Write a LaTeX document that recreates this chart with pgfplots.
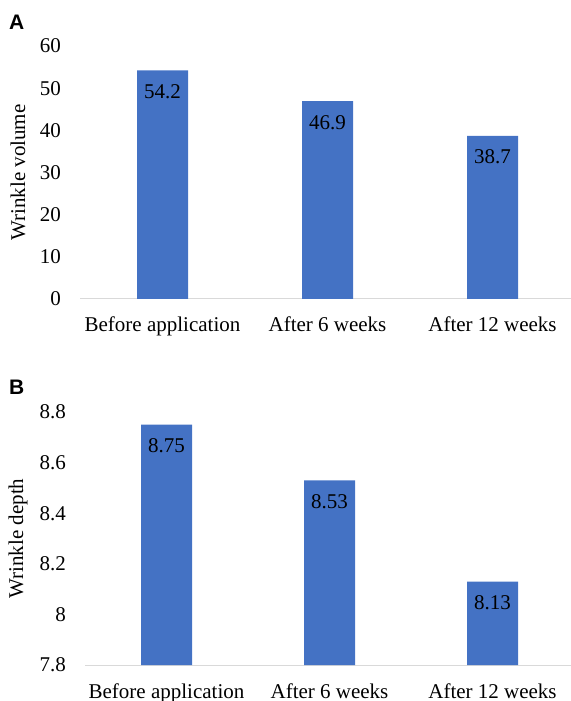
\documentclass[border=0pt]{standalone}
\usepackage{fontspec}
\setmainfont{Liberation Serif}
\newfontfamily\panelfont{Liberation Sans}
\usepackage{pgfplots}
\pgfplotsset{compat=1.18}
\definecolor{barblue}{HTML}{4472C4}
\definecolor{axisgray}{HTML}{D9D9D9}

\pgfplotsset{
  wrinklebars/.style={
    scale only axis,
    anchor=south west,
    ybar,
    bar width=51bp,
    xmin=-0.5, xmax=2.5,
    xtick={0,1,2},
    xticklabels={Before application, After 6 weeks, After 12 weeks},
    axis x line=bottom,
    axis y line=left,
    x axis line style={draw=axisgray, line width=1pt, -},
    y axis line style={draw=none},
    major tick length=0pt,
    tick style={draw=none},
    font=\fontsize{21bp}{25bp}\selectfont,
    ticklabel style={font=\rmfamily\fontsize{21bp}{25bp}\selectfont, inner sep=0pt},
    yticklabel style={anchor=east, xshift=-19bp},
    xticklabel style={anchor=base, yshift=-33bp},
    point meta=explicit symbolic,
    nodes near coords,
    every node near coord/.append style={anchor=center, yshift=-21bp,
      text=black, font=\rmfamily\fontsize{21bp}{25bp}\selectfont},
    every axis y label/.style={at={(axis description cs:0,0.5)},
      rotate=90, anchor=center},
    clip=false,
  },
}

\begin{document}
\begin{tikzpicture}
\useasboundingbox (0,0) rectangle (571bp,701bp);

% Panel A: wrinkle volume
\begin{axis}[wrinklebars,
  at={(80bp,402bp)}, width=495bp, height=253bp,
  ymin=0, ymax=60, ytick={0,10,20,30,40,50,60},
  yticklabels={0,10,20,30,40,50,60},
  ylabel={Wrinkle volume},
  ylabel style={yshift=62bp},
]
\addplot[fill=barblue, draw=none] coordinates {(0,54.2) [54.2] (1,46.9) [46.9] (2,38.7) [38.7]};
\end{axis}
\node[anchor=base west, inner sep=0pt, font=\panelfont\bfseries\fontsize{21bp}{25bp}\selectfont] at (9bp,671bp) {A};

% Panel B: wrinkle depth
\begin{axis}[wrinklebars,
  at={(85bp,36bp)}, width=489bp, height=253bp,
  ymin=7.8, ymax=8.8, ytick={7.8,8,8.2,8.4,8.6,8.8},
  yticklabels={7.8,8,8.2,8.4,8.6,8.8},
  ylabel={Wrinkle depth},
  ylabel style={yshift=67bp},
]
\addplot[fill=barblue, draw=none] coordinates {(0,8.75) [8.75] (1,8.53) [8.53] (2,8.13) [8.13]};
\end{axis}
\node[anchor=base west, inner sep=0pt, font=\panelfont\bfseries\fontsize{21bp}{25bp}\selectfont] at (9bp,306bp) {B};
\end{tikzpicture}
\end{document}
